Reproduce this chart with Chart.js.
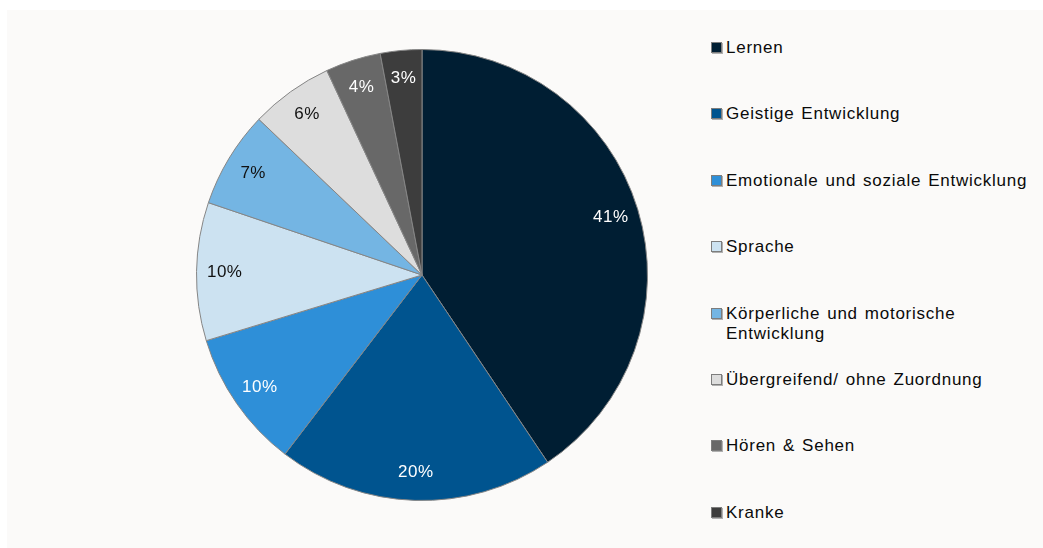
<!DOCTYPE html>
<html lang="de">
<head>
<meta charset="utf-8">
<script src="https://cdn.jsdelivr.net/npm/chart.js@4"></script>
<style>
  html, body { margin: 0; padding: 0; background: #ffffff; }
  body { width: 1043px; height: 548px; position: relative; overflow: hidden;
         font-family: "Liberation Sans", Arial, sans-serif; }
  #panel { position: absolute; left: 7px; top: 10px; width: 1036px; height: 538px; background: #fbfaf9; }
  #pieBox { position: absolute; left: 190px; top: 43px; width: 464px; height: 464px; }
  #legend { position: absolute; left: 711px; top: 38px; margin: 0; padding: 0; list-style: none; }
  #legend li { position: relative; height: 66.4px; width: 330px; font-size: 17px; line-height: 20px;
               color: #0a0a0a; letter-spacing: 0.75px; word-spacing: 1.5px; }
  #legend .box { position: absolute; left: 0; top: 4px; width: 9px; height: 9px;
                 border: 1px solid #7d7d7d; box-shadow: 1px 1px 0 #b0b0b0; }
  #legend .txt { position: absolute; left: 15px; top: 0; width: 316px; }
</style>
</head>
<body>
<div id="panel"></div>
<div id="pieBox"><canvas id="pieChart"></canvas></div>
<ul id="legend"></ul>
<script>
  const categories = [
    "Lernen",
    "Geistige Entwicklung",
    "Emotionale und soziale Entwicklung",
    "Sprache",
    "Körperliche und motorische Entwicklung",
    "Übergreifend/ ohne Zuordnung",
    "Hören & Sehen",
    "Kranke",
  ];
  const shares = [41, 20, 10, 10, 7, 6, 4, 3];
  const sliceColors = ["#001e33", "#00548f", "#2e8fd8", "#cce2f1", "#74b5e3", "#dddddd", "#686868", "#3d3d3d"];
  const labelColors = ["#ffffff", "#ffffff", "#ffffff", "#111111", "#111111", "#111111", "#ffffff", "#ffffff"];

  // percent labels placed along each arc's middle angle
  const sliceLabels = {
    id: "sliceLabels",
    afterDatasetsDraw(chart) {
      const ctx = chart.ctx;
      const meta = chart.getDatasetMeta(0);
      ctx.save();
      ctx.font = "17px 'Liberation Sans', Arial, sans-serif";
      ctx.letterSpacing = "0.5px";
      ctx.textAlign = "center";
      ctx.textBaseline = "middle";
      meta.data.forEach(function (arc, i) {
        const p = arc.getProps(["x", "y", "startAngle", "endAngle", "outerRadius"], true);
        const mid = (p.startAngle + p.endAngle) / 2;
        const r = p.outerRadius * 0.875;
        ctx.fillStyle = labelColors[i];
        ctx.fillText(shares[i] + "%", p.x + Math.cos(mid) * r, p.y + Math.sin(mid) * r);
      });
      ctx.restore();
    },
  };

  new Chart(document.getElementById("pieChart").getContext("2d"), {
    type: "pie",
    data: {
      labels: categories,
      datasets: [
        {
          data: shares,
          backgroundColor: sliceColors,
          borderColor: "#858585",
          borderWidth: 1,
          hoverOffset: 0,
        },
      ],
    },
    options: {
      responsive: true,
      maintainAspectRatio: false,
      animation: false,
      layout: { padding: 6 },
      plugins: {
        legend: { display: false },
        tooltip: { enabled: false },
      },
    },
    plugins: [sliceLabels],
  });

  // legend built from the same arrays
  const legendList = document.getElementById("legend");
  categories.forEach(function (name, i) {
    const li = document.createElement("li");
    const box = document.createElement("span");
    box.className = "box";
    box.style.background = sliceColors[i];
    const txt = document.createElement("span");
    txt.className = "txt";
    txt.textContent = name;
    li.appendChild(box);
    li.appendChild(txt);
    legendList.appendChild(li);
  });
</script>
</body>
</html>
